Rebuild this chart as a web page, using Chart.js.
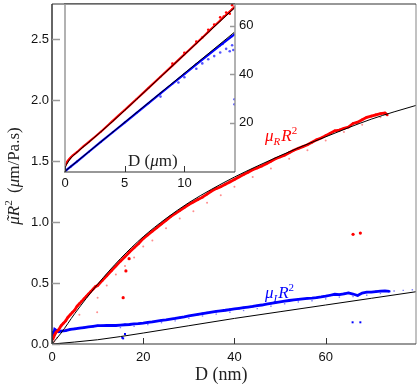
<!DOCTYPE html>
<html>
<head>
<meta charset="utf-8">
<script src="https://cdn.jsdelivr.net/npm/chart.js@4.4.0/dist/chart.umd.min.js"></script>
<style>
body { margin: 0; background: #fff; }
#wrap { position: relative; width: 420px; height: 386px; }
canvas { position: absolute; left: 0; top: 0; }
</style>
</head>
<body>
<div id="wrap">
<canvas id="main" width="420" height="386"></canvas>
<canvas id="inset" width="270" height="200"></canvas>
</div>
<script>
"use strict";

// ---- main plot, D in nm ----
const xTicks = [0, 20, 40, 60];
const yTicks = [0, 0.5, 1.0, 1.5, 2.0, 2.5];

// mu_R R^2 (dense band)
const redD = [0.2,0.5,0.8,1,1.5,2,2.5,3,3.5,4,4.5,5,5.5,6,6.5,7,7.5,8,8.5,9,9.5,10,11,12,13,14,15,16,17,18,19,
  20,21,22,23,24,25,26,27,28,29,30,31,32,33,34,35,36,37,38,39,40,41,42,43,44,45,46,47,48,49,
  50,51,52,53,54,55,56,57,58,59,60,61,62,63,64,65,66,67,68,69,70,71,72,73,73.5];
const redV = [0.04,0.07,0.09,0.10,0.12,0.15,0.17,0.19,0.22,0.24,0.26,0.28,0.31,0.33,0.35,0.37,0.39,0.41,0.43,0.45,0.47,0.48,0.52,0.56,0.60,0.64,0.68,0.715,0.755,0.79,0.825,
  0.865,0.895,0.925,0.955,0.985,1.015,1.045,1.07,1.095,1.12,1.145,1.165,1.185,1.205,1.23,1.255,1.275,1.29,1.31,1.33,1.35,1.37,1.39,1.41,1.43,1.445,1.46,1.48,1.50,1.52,
  1.535,1.55,1.57,1.59,1.605,1.62,1.635,1.655,1.675,1.69,1.71,1.73,1.75,1.755,1.77,1.78,1.81,1.82,1.84,1.86,1.87,1.88,1.89,1.895,1.88];
// faint red points under the band
const redFaintD = [0.5,1,3,6,9.9,10,12,14,16,18,20,22,25,28,31,34,37,40,44,48,52,56,60,64,68,72];
const redFaintV = [0.02,0.05,0.12,0.24,0.26,0.38,0.48,0.57,0.64,0.71,0.80,0.85,0.95,1.03,1.09,1.16,1.22,1.29,1.37,1.44,1.52,1.59,1.67,1.74,1.80,1.86];
const redOutD = [15.6,16.2,16.9,66,67.6];
const redOutV = [0.38,0.60,0.70,0.90,0.91];

// mu_I R^2
const blueD = [0,0.3,0.6,1,1.5,2,3,4,5,6,7,8,9,10,11,12,13,14,15,16,17,18,19,
  20,21,22,23,24,25,26,27,28,29,30,31,32,33,34,35,36,37,38,39,40,41,42,43,44,45,46,47,48,49,
  50,51,52,53,54,55,56,57,58,59,60,61,62,63,64,65,66,67,68,69,70,71,72,73,74];
const blueV = [0.10,0.07,0.12,0.11,0.10,0.105,0.11,0.12,0.125,0.13,0.135,0.14,0.145,0.15,0.15,0.152,0.153,0.152,0.155,0.158,0.16,0.165,0.168,
  0.172,0.177,0.182,0.188,0.193,0.198,0.205,0.21,0.216,0.222,0.23,0.237,0.244,0.25,0.256,0.262,0.267,0.272,0.277,0.283,0.288,0.293,0.298,0.303,0.308,0.314,0.32,0.327,0.334,0.34,
  0.346,0.352,0.357,0.362,0.366,0.37,0.374,0.377,0.381,0.386,0.392,0.40,0.408,0.405,0.412,0.42,0.41,0.398,0.418,0.425,0.426,0.43,0.434,0.436,0.432];
const blueFaintD = [0.2,0.8,15,18,21,24,27,30,33,36,39,42,45,48,51,54,57,60,63,66,69,72,75,77,79];
const blueFaintV = [0.05,0.09,0.135,0.145,0.16,0.175,0.19,0.21,0.23,0.245,0.26,0.275,0.29,0.31,0.33,0.345,0.355,0.37,0.385,0.39,0.40,0.415,0.435,0.44,0.445];
const blueOutD = [15.4,15.6,16,65.9,67.6];
const blueOutV = [0.052,0.046,0.082,0.178,0.178];

// black model curves
const fitRD = [0,2,5,10,15,20,25,30,35,40,45,50,55,60,65,70,75,80];
const fitRV = [0,0.09,0.25,0.49,0.70,0.88,1.03,1.16,1.27,1.37,1.46,1.545,1.625,1.70,1.775,1.845,1.905,1.96];
const fitID = [0,10,20,30,40,50,60,70,80];
const fitIV = [0,0.035,0.09,0.15,0.21,0.265,0.32,0.375,0.43];

// ---- inset, D in um ----
const inXTicks = [0, 5, 10];
const inYTicks = [20, 40, 60];
const inRedD = [0,0.2,0.5,1,1.5,2,3,4,5,6,7,8,9,10,11,12,13,14,14.2];
const inRedV = [1.9,4.0,5.8,7.9,10.1,12.1,16.3,20.8,25.3,29.8,34.4,39.0,43.6,48.2,52.8,57.5,62.2,66.8,67.8];
const inRedScD = [9,10,11,11.5,12,12.5,13,13.3,13.5,13.8,14,14.1];
const inRedScV = [44.4,48.9,53.5,55.2,58.4,60.5,63.5,63.8,65.5,65,68.5,69.5];
const inBlueD = [0,0.5,1,2,3,4,5,6,7,8,9,10,11,12,13,14,14.2];
const inBlueV = [0,2.0,4.0,8.05,12.1,16.1,20.1,24.1,28.1,32.1,36.1,40.1,44.1,48.0,51.9,55.7,56.5];
const inBlueScD = [8,9.5,10,11,11.5,12,12.5,13,13.2,13.5,13.8,14,14.1,14.2,14.2];
const inBlueScV = [30.8,36.6,38.8,42.3,44.5,46.2,47.5,49,52.5,50.5,49.5,52,50,29.7,27.6];
const inFitRD = [0,0.5,1,2,4,6,8,10,12,14.2];
const inFitRV = [1.8,5.5,7.8,12.0,20.6,29.7,38.9,48.1,57.3,67.4];
const inFitBD = [0,14.2];
const inFitBV = [0,57.4];

const pts = (xs, ys) => xs.map((x, i) => ({ x: x, y: ys[i] }));

const SERIF = '"Liberation Serif", serif';
const SANS = '"Liberation Sans", Arial, sans-serif';
const RED = "rgb(255,0,0)";
const BLUE = "rgb(0,0,255)";

function drawRich(ctx, parts, x, y, color)
{
    ctx.fillStyle = color;
    ctx.textAlign = "left";
    ctx.textBaseline = "alphabetic";
    for (const p of parts)
    {
        ctx.font = p.f;
        const w = ctx.measureText(p.t).width;
        ctx.fillText(p.t, x, y + (p.dy || 0));
        if (p.tilde)
        {
            // tilde accent over the glyph
            const tw = ctx.measureText("\u02dc").width;
            ctx.fillText("\u02dc", x + (w - tw) / 2 + 1.5, y - 1);
        }
        x += w + (p.gap || 0);
    }
}
function richWidth(ctx, parts)
{
    let w = 0;
    for (const p of parts)
    {
        ctx.font = p.f;
        w += ctx.measureText(p.t).width + (p.gap || 0);
    }
    return w;
}

function line(ctx, x1, y1, x2, y2, color, w)
{
    ctx.strokeStyle = color;
    ctx.lineWidth = w;
    ctx.beginPath();
    ctx.moveTo(x1, y1);
    ctx.lineTo(x2, y2);
    ctx.stroke();
}

// fixed box sizes, no extra label padding
function fixBox(w, h)
{
    return s => {
        if (w != null) s.width = w;
        if (h != null) s.height = h;
        s.paddingTop = 0;
        s.paddingBottom = 0;
        s.paddingLeft = 0;
        s.paddingRight = 0;
    };
}

const mainDeco = {
    id: "mainDeco",
    afterDraw(chart)
    {
        const ctx = chart.ctx;
        const a = chart.chartArea;
        const sx = chart.scales.x, sy = chart.scales.y;
        ctx.save();
        // frame
        line(ctx, a.right, a.top, a.right, a.bottom, "#999", 1.2);
        line(ctx, a.left, a.top, a.right, a.top, "#333", 1.2);
        line(ctx, a.left, a.bottom, a.right, a.bottom, "#333", 1.2);
        line(ctx, a.left, a.top, a.left, a.bottom, "#333", 1.5);
        // inner ticks
        for (const v of xTicks)
        {
            const px = Math.round(sx.getPixelForValue(v)) + 0.5;
            line(ctx, px, a.bottom, px, a.bottom - 6, "#333", 1);
        }
        for (const v of yTicks)
        {
            const py = Math.round(sy.getPixelForValue(v)) + 0.5;
            line(ctx, a.left, py, a.left + 8, py, "#999", 1.5);
        }
        // axis titles
        drawRich(ctx, [
            { t: "D (nm)", f: "18px " + SERIF }
        ], 195, 380, "#222");

        const yt = [
            { t: "\u03bc", f: "italic 17px " + SERIF, tilde: true },
            { t: "R", f: "italic 17px " + SERIF },
            { t: "2", f: "11px " + SERIF, dy: -7, gap: 3 },
            { t: " (", f: "17px " + SERIF },
            { t: "\u03bc", f: "italic 17px " + SERIF },
            { t: "m/Pa.s)", f: "17px " + SERIF }
        ];
        const w = richWidth(ctx, yt);
        ctx.save();
        ctx.translate(19, 176);
        ctx.rotate(-Math.PI / 2);
        drawRich(ctx, yt, -w / 2, 0, "#222");
        ctx.restore();

        // series labels
        drawRich(ctx, [
            { t: "\u03bc", f: "italic 17px " + SERIF },
            { t: "R", f: "italic 11px " + SERIF, dy: 4, gap: 1 },
            { t: "R", f: "italic 17px " + SERIF },
            { t: "2", f: "11px " + SERIF, dy: -7 }
        ], 265, 141, RED);
        drawRich(ctx, [
            { t: "\u03bc", f: "italic 17px " + SERIF },
            { t: "I", f: "italic 11px " + SERIF, dy: 4, gap: 1 },
            { t: "R", f: "italic 17px " + SERIF },
            { t: "2", f: "11px " + SERIF, dy: -7 }
        ], 265, 298, BLUE);
        ctx.restore();
    }
};

const mainChart = new Chart(document.querySelector("#main"), {
    type: "scatter",
    data: {
        datasets: [
            { data: pts(fitRD, fitRV), showLine: true, borderColor: "#000", borderWidth: 1, pointRadius: 0, cubicInterpolationMode: "monotone" },
            { data: pts(fitID, fitIV), showLine: true, borderColor: "#000", borderWidth: 1, pointRadius: 0, cubicInterpolationMode: "monotone" },
            { data: pts(redOutD, redOutV), pointRadius: 1.6, pointBackgroundColor: RED, pointBorderWidth: 0 },
            { data: pts(blueOutD, blueOutV), pointRadius: 1.4, pointStyle: "rect", pointBackgroundColor: BLUE, pointBorderWidth: 0 },
            { data: pts(redD, redV), showLine: true, borderColor: RED, borderWidth: 2.8, pointRadius: 1.3, pointBackgroundColor: RED, pointBorderWidth: 0 },
            { data: pts(blueD, blueV), showLine: true, borderColor: BLUE, borderWidth: 2.8, pointRadius: 1.3, pointStyle: "rect", pointBackgroundColor: BLUE, pointBorderWidth: 0 },
            { data: pts(redFaintD, redFaintV), pointRadius: 1, pointBackgroundColor: "rgba(255,0,0,0.45)", pointBorderWidth: 0 },
            { data: pts(blueFaintD, blueFaintV), pointRadius: 1, pointStyle: "rect", pointBackgroundColor: "rgba(0,0,255,0.5)", pointBorderWidth: 0 }
        ]
    },
    options: {
        responsive: false,
        animation: false,
        devicePixelRatio: 1,
        layout: { padding: { left: 0, right: 4, top: 3, bottom: 0 } },
        plugins: { legend: { display: false }, tooltip: { enabled: false } },
        scales: {
            x: {
                type: "linear", min: 0, max: 79.8,
                afterBuildTicks: s => { s.ticks = xTicks.map(v => ({ value: v })); },
                afterFit: fixBox(null, 42),
                grid: { display: false, drawTicks: false },
                border: { display: false },
                ticks: { color: "#111", font: { family: SANS, size: 13 }, padding: 6, maxRotation: 0 }
            },
            y: {
                type: "linear", min: 0, max: 2.79,
                afterBuildTicks: s => { s.ticks = yTicks.map(v => ({ value: v })); },
                afterFit: fixBox(52, null),
                grid: { display: false, drawTicks: false },
                border: { display: false },
                ticks: { color: "#111", font: { family: SANS, size: 13 }, padding: 3, callback: v => v.toFixed(1) }
            }
        }
    },
    plugins: [mainDeco]
});

const insetDeco = {
    id: "insetDeco",
    beforeDraw(chart)
    {
        const ctx = chart.ctx;
        const a = chart.chartArea;
        ctx.save();
        ctx.fillStyle = "#fff";
        ctx.fillRect(a.left - 1, a.top, a.right - a.left + 1, a.bottom - a.top);
        ctx.restore();
    },
    afterDraw(chart)
    {
        const ctx = chart.ctx;
        const a = chart.chartArea;
        const sx = chart.scales.x, sy = chart.scales.y;
        ctx.save();
        line(ctx, a.left - 1, a.top, a.right, a.top, "#333", 1.2);
        line(ctx, a.left, a.top, a.left, a.bottom, "#999", 1.5);
        line(ctx, a.right, a.top, a.right, a.bottom, "#999", 1.5);
        line(ctx, a.left - 1, a.bottom, a.right, a.bottom, "#333", 1.2);
        for (const v of inXTicks)
        {
            const px = Math.round(sx.getPixelForValue(v)) + 0.5;
            line(ctx, px, a.bottom, px, a.bottom - 6, "#333", 1);
        }
        for (const v of inYTicks)
        {
            const py = Math.round(sy.getPixelForValue(v)) + 0.5;
            line(ctx, a.right, py, a.right - 5, py, "#999", 1.5);
        }
        drawRich(ctx, [
            { t: "D (", f: "17px " + SERIF },
            { t: "\u03bc", f: "italic 17px " + SERIF },
            { t: "m)", f: "17px " + SERIF }
        ], 128, 166, "#222");
        ctx.restore();
    }
};

const insetChart = new Chart(document.querySelector("#inset"), {
    type: "scatter",
    data: {
        datasets: [
            { data: pts(inFitRD, inFitRV), showLine: true, borderColor: "#000", borderWidth: 1, pointRadius: 0, cubicInterpolationMode: "monotone" },
            { data: pts(inFitBD, inFitBV), showLine: true, borderColor: "#000", borderWidth: 1, pointRadius: 0 },
            { data: pts(inRedD, inRedV), showLine: true, borderColor: RED, borderWidth: 2.2, pointRadius: 1, pointBackgroundColor: RED, pointBorderWidth: 0, cubicInterpolationMode: "monotone" },
            { data: pts(inBlueD, inBlueV), showLine: true, borderColor: BLUE, borderWidth: 2.2, pointRadius: 1, pointBackgroundColor: BLUE, pointBorderWidth: 0 },
            { data: pts(inRedScD, inRedScV), pointRadius: 1.3, pointBackgroundColor: RED, pointBorderWidth: 0 },
            { data: pts(inBlueScD, inBlueScV), pointRadius: 1.3, pointBackgroundColor: "rgba(40,40,255,0.8)", pointBorderWidth: 0 }
        ]
    },
    options: {
        responsive: false,
        animation: false,
        devicePixelRatio: 1,
        layout: { padding: { left: 65, right: 0, top: 3, bottom: 0 } },
        plugins: { legend: { display: false }, tooltip: { enabled: false } },
        scales: {
            x: {
                type: "linear", min: 0, max: 14.24,
                afterBuildTicks: s => { s.ticks = inXTicks.map(v => ({ value: v })); },
                afterFit: fixBox(null, 28),
                grid: { display: false, drawTicks: false },
                border: { display: false },
                ticks: { color: "#111", font: { family: SANS, size: 13 }, padding: 4, maxRotation: 0 }
            },
            y: {
                type: "linear", position: "right", min: -0.3, max: 69,
                afterBuildTicks: s => { s.ticks = inYTicks.map(v => ({ value: v })); },
                afterFit: fixBox(35, null),
                grid: { display: false, drawTicks: false },
                border: { display: false },
                ticks: { color: "#111", font: { family: SANS, size: 13 }, padding: 4 }
            }
        }
    },
    plugins: [insetDeco]
});
</script>
</body>
</html>
